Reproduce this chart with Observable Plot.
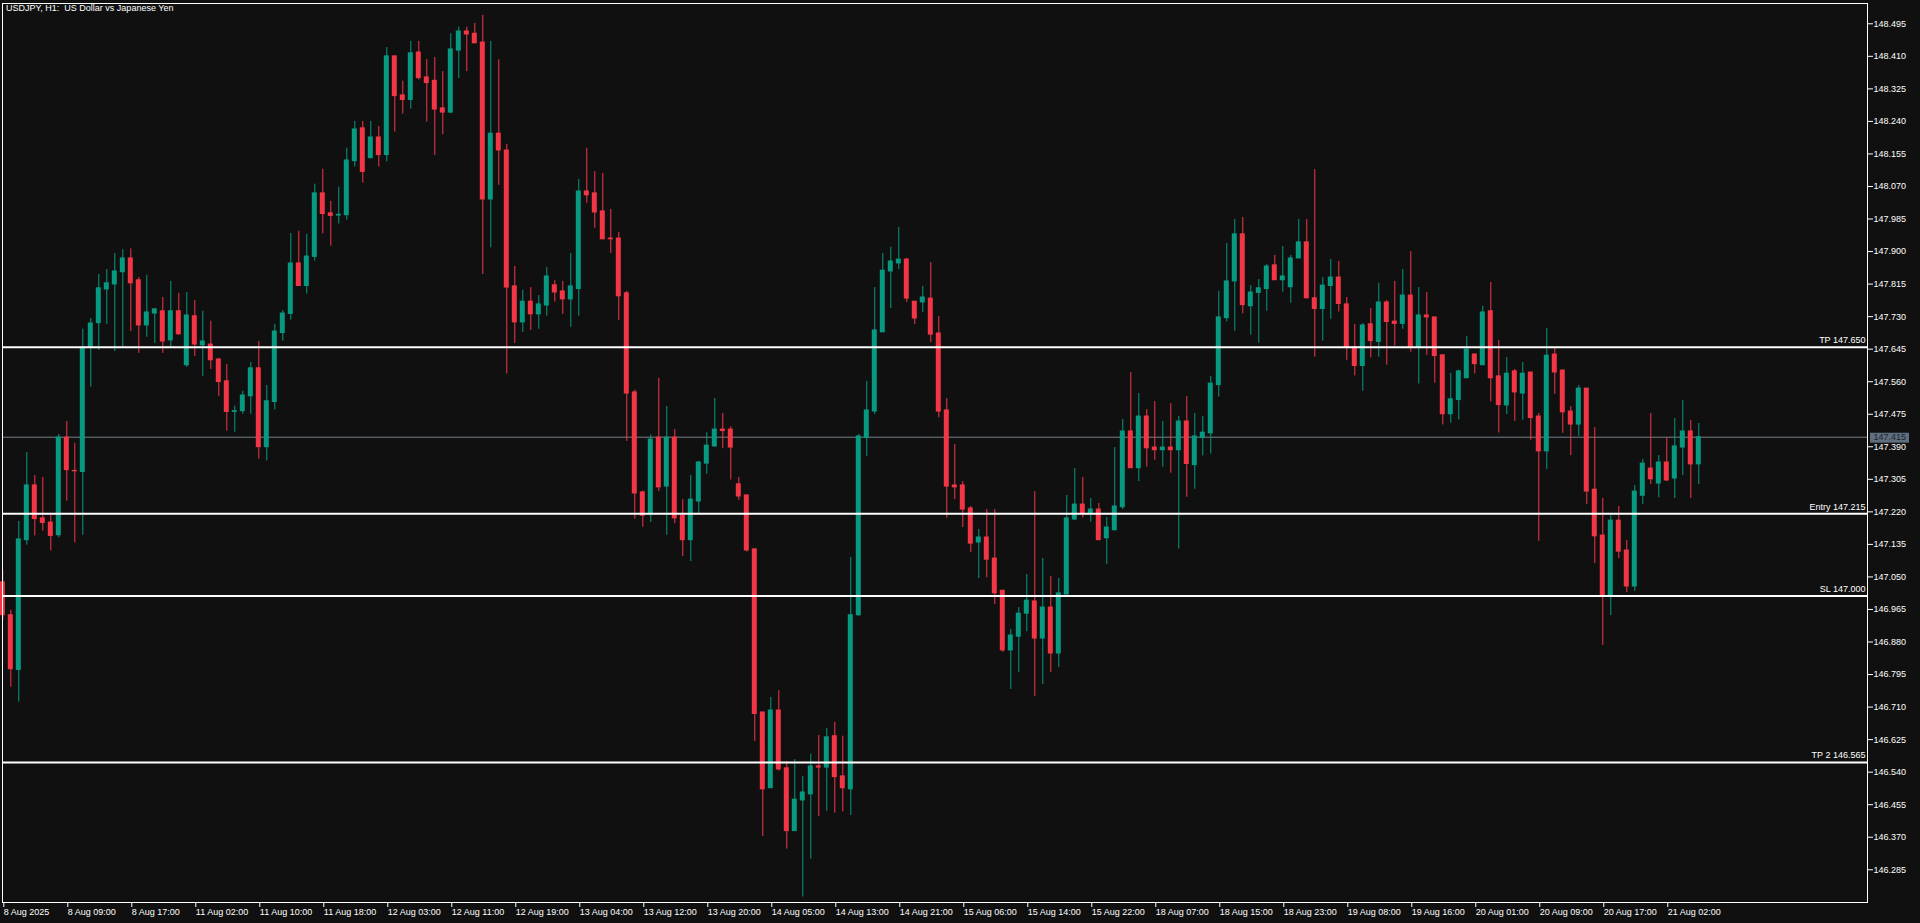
<!DOCTYPE html>
<html><head><meta charset="utf-8">
<script src="https://cdn.jsdelivr.net/npm/d3@7"></script>
<script src="https://cdn.jsdelivr.net/npm/@observablehq/plot@0.6"></script>
<style>
html,body{margin:0;padding:0;background:#101010;overflow:hidden;}
#wrap{position:relative;width:1920px;height:923px;}
#title{position:absolute;left:6px;top:3px;color:#fff;font:9px "Liberation Sans",Arial,sans-serif;white-space:pre;}
</style></head><body><div id="wrap"><div id="title">USDJPY, H1:  US Dollar vs Japanese Yen</div></div>
<script>
const opens=[147.036,146.950,146.807,147.146,147.289,147.203,147.192,147.159,147.414,147.327,147.324,147.651,147.713,147.801,147.814,147.846,147.882,147.825,147.707,147.738,147.744,147.668,147.744,147.603,147.731,147.655,147.657,147.618,147.561,147.481,147.483,147.522,147.595,147.389,147.507,147.687,147.737,147.869,147.810,147.886,148.052,148.000,147.994,147.995,148.136,148.222,148.144,148.198,148.152,148.410,148.308,148.296,148.420,148.355,148.346,148.274,148.263,148.425,148.475,148.469,148.446,148.036,148.208,148.164,147.809,147.715,147.769,147.736,147.759,147.812,147.796,147.775,147.802,148.057,148.052,148.005,147.934,147.934,147.791,147.532,147.271,147.214,147.414,147.286,147.414,147.209,147.146,147.247,147.346,147.391,147.435,147.435,147.292,147.263,147.122,146.696,146.498,146.701,146.550,146.386,146.466,146.482,146.555,146.552,146.634,146.529,146.495,146.950,147.413,147.482,147.689,147.848,147.869,147.879,147.769,147.767,147.777,147.686,147.485,147.289,147.289,147.229,147.140,147.153,147.098,147.014,146.858,146.894,146.954,146.986,146.889,146.970,146.850,147.004,147.200,147.239,147.217,147.226,147.151,147.172,147.232,147.430,147.334,147.469,147.388,147.381,147.388,147.381,147.456,147.342,147.413,147.425,147.551,147.726,147.822,147.945,147.757,147.792,147.802,147.864,147.825,147.807,147.882,147.924,147.778,147.750,147.810,147.832,147.762,147.650,147.601,147.710,147.664,147.767,147.717,147.711,147.785,147.650,147.733,147.728,147.629,147.475,147.512,147.569,147.631,147.603,147.744,147.574,147.498,147.587,147.529,147.584,147.469,147.378,147.631,147.589,147.482,147.448,147.542,147.278,147.158,147.001,147.197,147.119,147.025,147.262,147.333,147.294,147.349,147.307,147.388,147.430,147.344];
const highs=[147.067,146.963,147.195,147.375,147.315,147.310,147.211,147.422,147.456,147.399,147.697,147.725,147.840,147.853,147.895,147.905,147.907,147.832,147.838,147.751,147.780,147.822,147.791,147.793,147.772,147.744,147.718,147.621,147.605,147.496,147.535,147.610,147.665,147.550,147.710,147.746,147.947,147.953,147.945,148.076,148.115,148.031,148.068,148.170,148.240,148.240,148.240,148.227,148.433,148.410,148.345,148.449,148.449,148.402,148.407,148.370,148.469,148.486,148.486,148.496,148.517,148.449,148.401,148.180,147.861,147.799,147.806,147.785,147.858,147.824,147.822,147.895,148.088,148.170,148.109,148.104,148.010,147.950,147.796,147.538,147.274,147.421,147.569,147.495,147.435,147.252,147.315,147.352,147.427,147.516,147.477,147.442,147.310,147.263,147.124,146.696,146.735,146.753,146.568,146.573,146.529,146.587,146.636,146.654,146.670,146.634,147.101,147.422,147.561,147.806,147.895,147.911,147.963,147.882,147.769,147.809,147.871,147.730,147.516,147.396,147.299,147.234,147.174,147.226,147.226,147.014,146.913,146.970,147.056,147.273,147.098,147.051,147.046,147.263,147.333,147.310,147.255,147.242,147.205,147.388,147.461,147.584,147.529,147.487,147.508,147.456,147.503,147.469,147.521,147.477,147.469,147.574,147.796,147.921,147.984,147.989,147.811,147.827,147.866,147.890,147.913,147.890,147.984,147.984,148.114,147.832,147.879,147.874,147.780,147.710,147.712,147.751,147.817,147.772,147.822,147.853,147.900,147.806,147.793,147.728,147.629,147.582,147.590,147.678,147.633,147.757,147.819,147.668,147.623,147.592,147.610,147.584,147.477,147.699,147.647,147.592,147.495,147.550,147.542,147.440,147.255,147.210,147.234,147.145,147.289,147.357,147.477,147.367,147.414,147.464,147.511,147.459,147.451];
const lows=[146.936,146.762,146.723,147.133,147.157,147.170,147.118,147.152,147.248,147.139,147.159,147.546,147.642,147.710,147.639,147.650,147.691,147.634,147.676,147.660,147.634,147.650,147.681,147.597,147.626,147.574,147.592,147.522,147.431,147.428,147.475,147.475,147.358,147.353,147.486,147.666,147.721,147.810,147.789,147.875,147.946,147.914,147.972,147.982,148.121,148.079,148.142,148.121,148.134,148.212,148.259,148.272,148.348,148.238,148.151,148.205,148.260,148.352,148.370,148.444,147.840,147.910,148.073,147.580,147.660,147.689,147.694,147.697,147.731,147.768,147.736,147.702,147.731,148.026,147.961,147.932,147.895,147.720,147.404,147.201,147.180,147.192,147.273,147.159,147.189,147.103,147.090,147.216,147.318,147.388,147.385,147.303,147.250,147.115,146.620,146.372,146.498,146.543,146.339,146.386,146.214,146.313,146.424,146.438,146.433,146.436,146.427,146.947,147.365,147.474,147.689,147.751,147.853,147.767,147.709,147.741,147.662,147.466,147.203,147.252,147.179,147.114,147.046,147.048,146.978,146.853,146.756,146.800,146.907,146.738,146.769,146.800,146.813,147.004,147.197,147.204,147.193,147.146,147.083,147.170,147.226,147.334,147.299,147.337,147.355,147.337,147.321,147.123,147.258,147.279,147.366,147.371,147.520,147.716,147.692,147.737,147.682,147.661,147.744,147.825,147.794,147.765,147.882,147.776,147.624,147.666,147.723,147.742,147.616,147.575,147.535,147.622,147.624,147.603,147.653,147.697,147.637,147.554,147.629,147.556,147.447,147.452,147.460,147.569,147.580,147.603,147.507,147.426,147.474,147.456,147.459,147.407,147.143,147.331,147.527,147.425,147.367,147.417,147.239,147.085,146.871,146.949,147.098,147.009,147.012,147.239,147.291,147.257,147.299,147.255,147.315,147.255,147.291];
const closes=[146.950,146.809,147.148,147.289,147.201,147.191,147.157,147.414,147.329,147.326,147.648,147.712,147.804,147.817,147.848,147.882,147.817,147.707,147.741,147.749,147.665,147.744,147.684,147.733,147.657,147.665,147.616,147.559,147.481,147.483,147.524,147.595,147.389,147.509,147.691,147.738,147.869,147.810,147.887,148.052,147.998,147.993,147.996,148.138,148.219,148.108,148.198,148.152,148.410,148.306,148.296,148.418,148.353,148.340,148.271,148.263,148.428,148.475,148.467,148.444,148.036,148.208,148.164,147.806,147.715,147.769,147.736,147.762,147.835,147.793,147.775,147.809,148.057,148.047,148.002,147.932,147.932,147.783,147.529,147.268,147.210,147.409,147.284,147.414,147.203,147.146,147.252,147.349,147.393,147.435,147.431,147.388,147.260,147.119,146.692,146.495,146.701,146.547,146.386,146.468,146.487,146.555,146.552,146.631,146.527,146.498,146.950,147.417,147.485,147.694,147.850,147.874,147.879,147.777,147.725,147.780,147.683,147.482,147.286,147.284,147.226,147.137,147.153,147.095,147.007,146.858,146.897,146.954,146.988,146.889,146.970,146.850,147.007,147.203,147.239,147.217,147.226,147.146,147.179,147.234,147.430,147.334,147.469,147.386,147.381,147.388,147.381,147.456,147.345,147.417,147.427,147.555,147.728,147.822,147.945,147.760,147.793,147.804,147.861,147.825,147.835,147.882,147.924,147.778,147.750,147.811,147.832,147.763,147.650,147.601,147.707,147.666,147.767,147.716,147.711,147.785,147.650,147.733,147.728,147.627,147.475,147.514,147.587,147.644,147.606,147.741,147.569,147.499,147.581,147.532,147.581,147.465,147.378,147.628,147.584,147.480,147.448,147.542,147.273,147.156,147.001,147.197,147.116,147.025,147.273,147.346,147.305,147.349,147.302,147.391,147.430,147.344,147.415];

const xTickIndex=[0,8,16,24,32,40,48,56,64,72,80,88,96,104,112,120,128,136,144,152,160,168,176,184,192,200,208];
const xTickLabels=["8 Aug 2025","8 Aug 09:00","8 Aug 17:00","11 Aug 02:00","11 Aug 10:00","11 Aug 18:00","12 Aug 03:00","12 Aug 11:00","12 Aug 19:00","13 Aug 04:00","13 Aug 12:00","13 Aug 20:00","14 Aug 05:00","14 Aug 13:00","14 Aug 21:00","15 Aug 06:00","15 Aug 14:00","15 Aug 22:00","18 Aug 07:00","18 Aug 15:00","18 Aug 23:00","19 Aug 08:00","19 Aug 16:00","20 Aug 01:00","20 Aug 09:00","20 Aug 17:00","21 Aug 02:00"];
const yTicks=[146.285,146.370,146.455,146.540,146.625,146.710,146.795,146.880,146.965,147.050,147.135,147.220,147.305,147.390,147.475,147.560,147.645,147.730,147.815,147.900,147.985,148.070,148.155,148.240,148.325,148.410,148.495];
const levelPrices=[147.650,147.215,147.000,146.565];
const levelLabels=["TP 147.650","Entry 147.215","SL 147.000","TP 2 146.565"];
const currentPrice=147.415;

const UP="#089981", DOWN="#f23645";
const candles=opens.map((o,i)=>({i,open:o,high:highs[i],low:lows[i],close:closes[i],col:closes[i]>=o?UP:DOWN}));
const xLabelMap=new Map(xTickIndex.map((d,k)=>[d,xTickLabels[k]]));
const levelMap=new Map(levelPrices.map((d,k)=>[d,levelLabels[k]]));
const FONT='"Liberation Sans",Arial,sans-serif';
const curText=currentPrice.toFixed(3);

const chart=Plot.plot({
  width:1920,height:923,
  marginLeft:2,marginRight:53,marginTop:3,marginBottom:21,
  style:{background:"#101010",color:"#ffffff",fontFamily:FONT,fontSize:"9px"},
  color:{type:"identity"},
  x:{type:"linear",domain:[-0.0375,233.09],axis:null},
  y:{domain:[146.1995,148.548],axis:null},
  marks:[
    Plot.ruleY([currentPrice],{stroke:"#77808a",strokeWidth:1}),
    Plot.ruleX(candles,{x:"i",y1:"low",y2:"high",stroke:"col",strokeWidth:1}),
    Plot.rect(candles,{x1:d=>d.i-0.3125,x2:d=>d.i+0.3125,y1:"open",y2:"close",fill:"col",insetTop:-0.5,insetBottom:-0.5}),
    Plot.ruleY(levelPrices,{stroke:"#ffffff",strokeWidth:2}),
    Plot.text(levelPrices,{y:d=>d,text:d=>levelMap.get(d),frameAnchor:"right",textAnchor:"end",dx:-2,dy:-7,fill:"#ffffff"}),
    Plot.frame({stroke:"#ffffff"}),
    Plot.axisY(yTicks,{anchor:"right",label:null,tickSize:5,tickPadding:1,tickFormat:d3.format(".3f"),stroke:"#ffffff",fill:"#ffffff"}),
    Plot.axisX(xTickIndex,{anchor:"bottom",label:null,tickSize:5,tickPadding:1,tickFormat:d=>xLabelMap.get(d),textAnchor:"start",dx:1,stroke:"#ffffff",fill:"#ffffff"}),
    Plot.rect([currentPrice],{y1:d=>d-0.0156,y2:d=>d+0.0104,fill:"#5f6f7f",insetLeft:1868,insetRight:-42}),
    Plot.text([currentPrice],{y:d=>d,text:()=>curText,frameAnchor:"right",textAnchor:"start",dx:6,fill:"#1c232a"})
  ]
});
document.getElementById("wrap").appendChild(chart);
</script></body></html>
